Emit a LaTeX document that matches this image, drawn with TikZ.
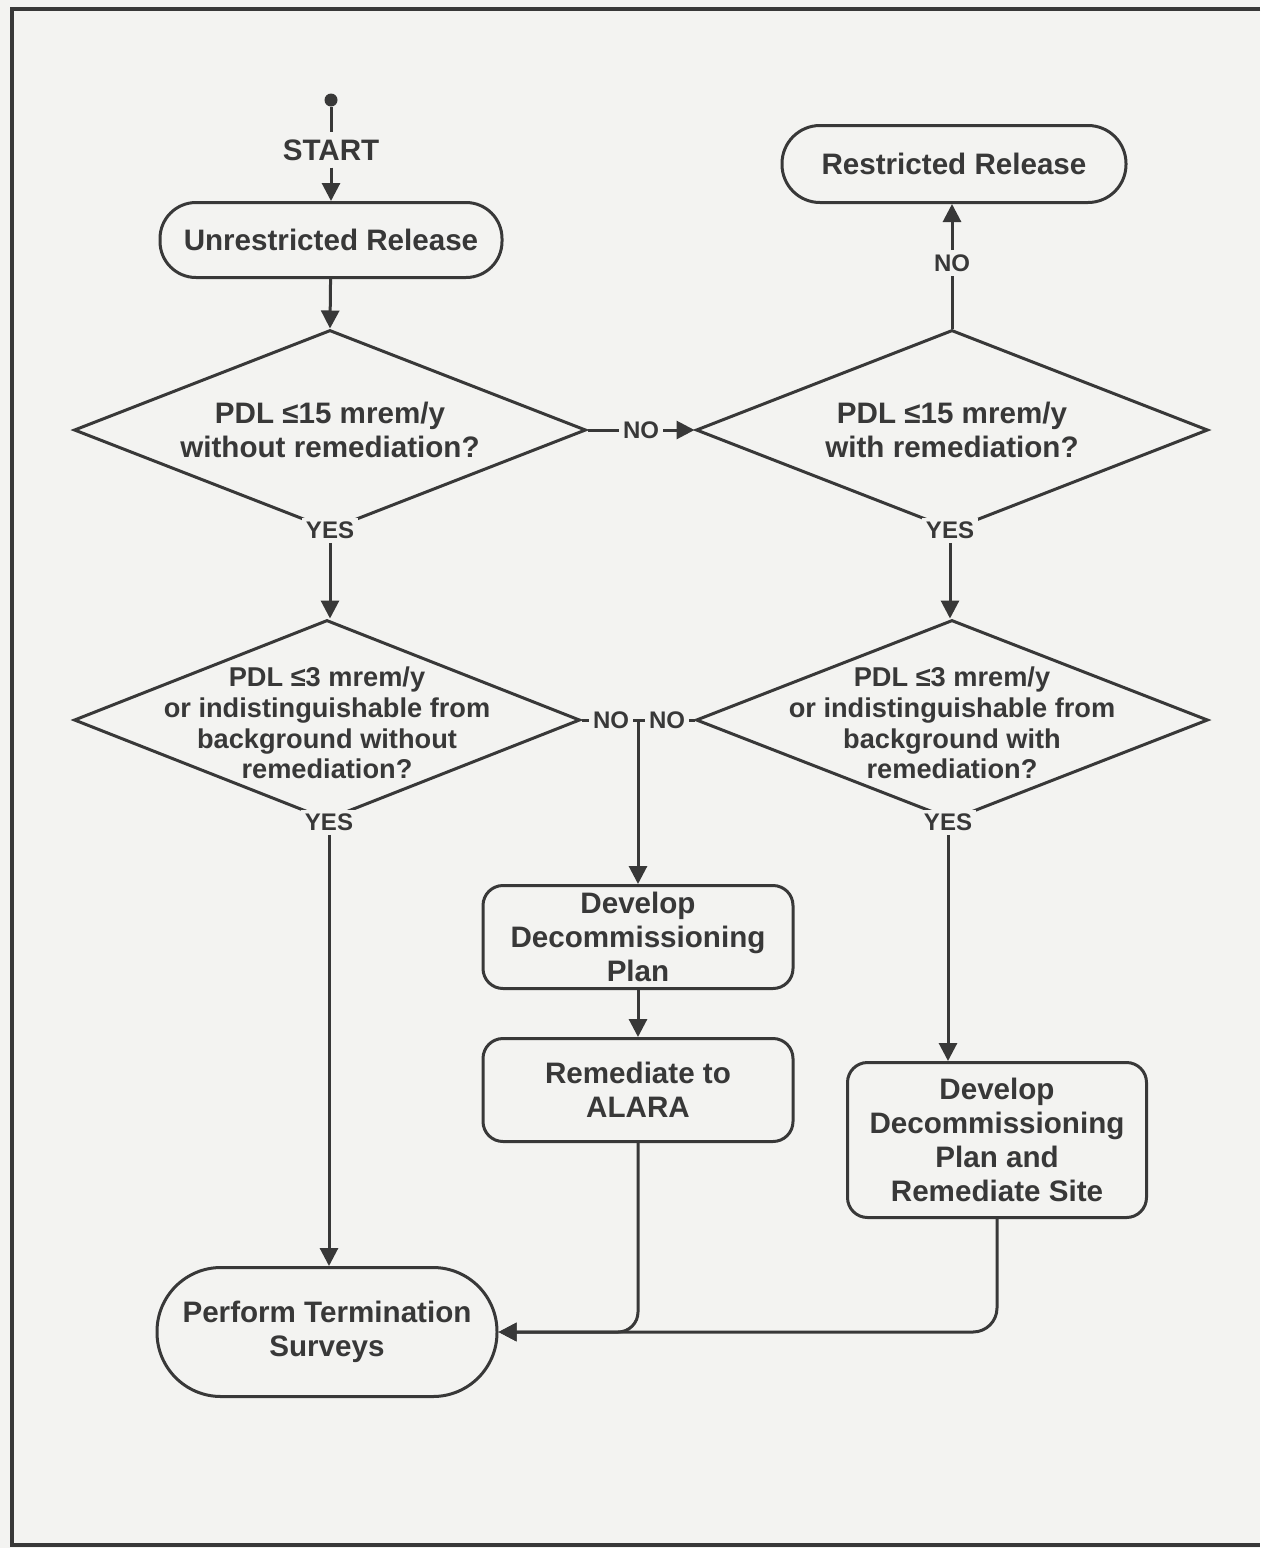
\documentclass[tikz,border=0pt]{standalone}
\usepackage{fontspec}
\setmainfont{Liberation Sans}
\usetikzlibrary{shapes.geometric,arrows.meta}
\definecolor{ink}{RGB}{56,56,56}
\definecolor{paper}{RGB}{243,243,241}

\begin{document}
\begin{tikzpicture}[x=0.5pt,y=-0.5pt,
  every node/.style={font=\bfseries\fontsize{14.8}{17}\selectfont, text=ink},
  line/.style={draw=ink, line width=1.5pt},
  arrow/.style={line, -{Triangle[length=9pt,width=9pt]}},
  terminal/.style={line, rectangle, rounded corners=#1, align=center, inner sep=0pt},
  process/.style={line, rectangle, rounded corners=10pt, align=center, inner sep=0pt},
  decision/.style={line, diamond, inner sep=0pt, minimum width=256pt, minimum height=100pt},
  answer/.style={fill=paper, inner sep=2pt, font=\bfseries\fontsize{12}{14}\selectfont},
  startdot/.style={circle, fill=ink, inner sep=0pt, minimum size=6.5pt},
  tight/.style={font=\bfseries\fontsize{13.6}{15.3}\selectfont}
]
% page and frame
\fill[paper] (0,0) rectangle (1260,1548);
\useasboundingbox (0,0) rectangle (1260,1548);
\draw[line, line width=2pt] (1260,9) -- (12,9) -- (12,1545) -- (1260,1545);

% start
\node[startdot] (dot) at (331,100) {};
\node (start) at (331,150) {START};
\draw[line] (dot) -- (start);

% terminals
\node[terminal=18pt, minimum width=171pt, minimum height=37.5pt] (unres) at (331,240) {Unrestricted Release};
\node[terminal=19pt, minimum width=172pt, minimum height=38.5pt] (restr) at (954,164) {Restricted Release};
\node[terminal=32pt, minimum width=170pt, minimum height=64.5pt] (term) at (327,1332) {Perform Termination\\Surveys};

% decisions
\node[decision, label={[align=center]center:{PDL ≤15 mrem/y\\without remediation?}}] (d1) at (330,430) {};
\node[decision, label={[align=center]center:{PDL ≤15 mrem/y\\with remediation?}}] (d2) at (952,430) {};
\node[decision, minimum width=253pt, label={[align=center, tight, yshift=-1.5pt]center:{PDL ≤3 mrem/y\\or indistinguishable from\\background without\\remediation?}}] (d3) at (327,720) {};
\node[decision, label={[align=center, tight, yshift=-1.5pt]center:{PDL ≤3 mrem/y\\or indistinguishable from\\background with\\remediation?}}] (d4) at (952,720) {};

% processes
\node[process, minimum width=155pt, minimum height=51.5pt] (plan) at (638,937) {Develop\\Decommissioning\\Plan};
\node[process, minimum width=155pt, minimum height=51.5pt] (alara) at (638,1090) {Remediate to\\ALARA};
\node[process, minimum width=149.5pt, minimum height=77.5pt] (site) at (997,1140) {Develop\\Decommissioning\\Plan and\\Remediate Site};

% answers
\node[answer] (yes1) at (330,530) {YES};
\node[answer] (yes2) at (950,530) {YES};
\node[answer] (yes3) at (329,822) {YES};
\node[answer] (yes4) at (948,822) {YES};
\node[answer] (no1) at (641,430) {NO};
\node[answer] (no2) at (952,263) {NO};
\node[answer] (no3) at (611,720) {NO};
\node[answer] (no4) at (667,720) {NO};
\coordinate (join) at (638,720);

% connectors
\draw[arrow] (start) -- (unres);
\draw[arrow] (unres) -- (d1.north);
\draw[line] (d1.east) -- (no1.west);
\draw[arrow] (no1.east) -- (d2.west);
\draw[line] (d2.north) -- (no2.south);
\draw[arrow] (no2.north) -- (no2.north |- restr.south);
\draw[arrow] (yes1.south) -- (d3.north -| yes1.south);
\draw[arrow] (yes2.south) -- (d4.north -| yes2.south);
\draw[line] (d3.east) -- (no3.west);
\draw[line] (no3.east) -- (no4.west);
\draw[line] (d4.west) -- (no4.east);
\draw[arrow] (join) -- (plan.north);
\draw[arrow] (plan) -- (alara);
\draw[arrow] (yes3.south) -- (yes3.south |- term.north);
\draw[arrow] (yes4.south) -- (yes4.south |- site.north);
\draw[arrow, rounded corners=10pt] (alara.south) |- (term.east);
\draw[arrow, rounded corners=12pt] (site.south) |- (term.east);
\end{tikzpicture}
\end{document}
